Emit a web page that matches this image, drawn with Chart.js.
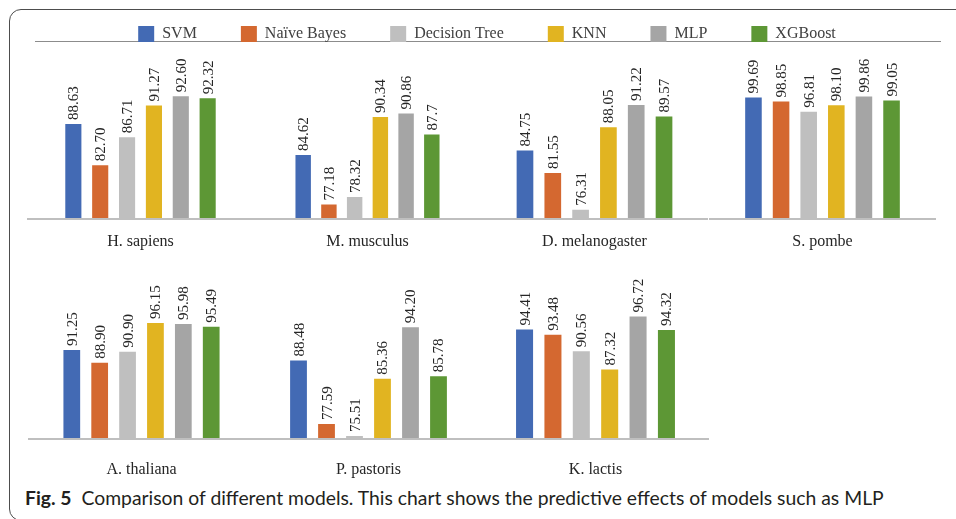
<!DOCTYPE html>
<html>
<head>
<meta charset="utf-8">
<title>Fig. 5</title>
<script src="https://cdn.jsdelivr.net/npm/chart.js@4.4.1/dist/chart.umd.min.js"></script>
<style>
  html, body { margin: 0; padding: 0; background: #fff; }
  body { width: 956px; height: 519px; position: relative; overflow: hidden; }
  #frame {
    position: absolute; left: 9px; top: 9px; width: 1000px; height: 512px;
    border: 1.5px solid #4d4d4d; border-radius: 12px; box-sizing: border-box;
  }
  #legendRule {
    position: absolute; left: 35px; top: 41px; width: 906px; height: 0;
    border-top: 1.5px solid #8c8c8c;
  }
  canvas { position: absolute; }
  #caption {
    position: absolute; left: 25px; top: 488px; white-space: nowrap;
    font-family: Lato, "Noto Sans", sans-serif; font-size: 19px; line-height: 19px;
    color: #231f20; transform-origin: 0 0;
  }
</style>
</head>
<body>
<div id="frame"></div>
<div id="legendRule"></div>
<canvas id="legend" width="916" height="240" style="left:29px;top:-18px"></canvas>
<div id="panels"></div>
<div id="caption"><b>Fig. 5</b>&nbsp;&nbsp;Comparison of different models. This chart shows the predictive effects of models such as MLP</div>

<script>
const SPECIES = ["H. sapiens", "M. musculus", "D. melanogaster", "S. pombe",
                 "A. thaliana", "P. pastoris", "K. lactis"];
const MODELS = ["SVM", "Naïve Bayes", "Decision Tree", "KNN", "MLP", "XGBoost"];
const COLORS = ["#436AB4", "#D46830", "#BFBFBF", "#E1B421", "#A5A5A5", "#5D9735"];

// accuracy (%) per species, kept as printed in the figure
const SVM           = ["88.63", "84.62", "84.75", "99.69", "91.25", "88.48", "94.41"];
const NAIVE_BAYES   = ["82.70", "77.18", "81.55", "98.85", "88.90", "77.59", "93.48"];
const DECISION_TREE = ["86.71", "78.32", "76.31", "96.81", "90.90", "75.51", "90.56"];
const KNN           = ["91.27", "90.34", "88.05", "98.10", "96.15", "85.36", "87.32"];
const MLP           = ["92.60", "90.86", "91.22", "99.86", "95.98", "94.20", "96.72"];
const XGBOOST       = ["92.32", "87.7",  "89.57", "99.05", "95.49", "85.78", "94.32"];
const SERIES = [SVM, NAIVE_BAYES, DECISION_TREE, KNN, MLP, XGBOOST];

// every panel in the original has its own hidden value axis starting at 75
const AXIS_MIN = 75;
const AXIS_MAX = [97.8, 98.9, 97.6, 107.3, 104.0, 102.3, 103.2];

// panel placement
const PANEL_CENTER = [140, 367, 594.5, 822.5, 141.5, 368, 595.5];
const PANEL_ROW = [0, 0, 0, 0, 1, 1, 1];
const PANEL_SPREAD = [0.71, 0.68, 0.735, 0.73, 0.737, 0.74, 0.75];
const ROW_TOP = [44, 264];
const ROW_TICK_PAD = [13, 21];
const PANEL_W = 227, PANEL_H = 215;

const SERIF = '"Liberation Serif", "Times New Roman", Tinos, serif';

// vertical value labels above each bar
const barLabels = {
    id: "barLabels",
    afterDatasetsDraw(chart) {
        const ctx = chart.ctx;
        ctx.save();
        ctx.font = "15px " + SERIF;
        ctx.fillStyle = "#262626";
        ctx.textAlign = "left";
        ctx.textBaseline = "alphabetic";
        chart.data.datasets.forEach((ds, i) => {
            chart.getDatasetMeta(i).data.forEach((bar, j) => {
                ctx.save();
                ctx.translate(bar.x + 5, bar.y - 4);
                ctx.rotate(-Math.PI / 2);
                ctx.fillText(ds.data[j], 0, 0);
                ctx.restore();
            });
        });
        ctx.restore();
    }
};

function drawAll() {
    Chart.defaults.font.family = SERIF;

    // legend only chart
    new Chart(document.getElementById("legend"), {
        type: "bar",
        data: {
            labels: [],
            datasets: MODELS.map((m, k) => ({ label: m, data: [], backgroundColor: COLORS[k] }))
        },
        options: {
            responsive: false,
            animation: false,
            scales: { x: { display: false }, y: { display: false } },
            plugins: {
                tooltip: { enabled: false },
                legend: {
                    position: "top",
                    labels: {
                        boxWidth: 16, boxHeight: 16, padding: 44, color: "#404040",
                        font: { family: SERIF, size: 16 }
                    }
                }
            }
        }
    });

    // one small chart per species
    const panels = document.getElementById("panels");
    SPECIES.forEach((name, i) => {
        const row = PANEL_ROW[i];
        const canvas = document.createElement("canvas");
        canvas.width = PANEL_W;
        canvas.height = PANEL_H;
        canvas.style.left = (PANEL_CENTER[i] - PANEL_W / 2) + "px";
        canvas.style.top = ROW_TOP[row] + "px";
        panels.appendChild(canvas);

        new Chart(canvas, {
            type: "bar",
            data: {
                labels: [name],
                datasets: SERIES.map((s, k) => ({
                    label: MODELS[k],
                    data: [s[i]],
                    backgroundColor: COLORS[k],
                    categoryPercentage: PANEL_SPREAD[i],
                    barPercentage: 0.6
                }))
            },
            options: {
                responsive: false,
                animation: false,
                layout: { padding: { top: 16, left: 0, right: 0, bottom: 0 } },
                plugins: { legend: { display: false }, tooltip: { enabled: false } },
                scales: {
                    x: {
                        grid: { display: false, drawTicks: false },
                        border: { display: true, color: "#BFBFBF", width: 2, z: 1 },
                        ticks: {
                            color: "#262626", padding: ROW_TICK_PAD[row],
                            font: { family: SERIF, size: 16 }
                        },
                        afterFit(scale) { scale.height = 40; }
                    },
                    y: { display: false, min: AXIS_MIN, max: AXIS_MAX[i] }
                }
            },
            plugins: [barLabels]
        });
    });

    // squeeze the caption to the printed width
    const cap = document.getElementById("caption");
    cap.style.transform = "scaleX(" + (859 / cap.scrollWidth) + ")";
}

document.fonts.load('16px "Liberation Serif"').then(drawAll, drawAll);
</script>
</body>
</html>
